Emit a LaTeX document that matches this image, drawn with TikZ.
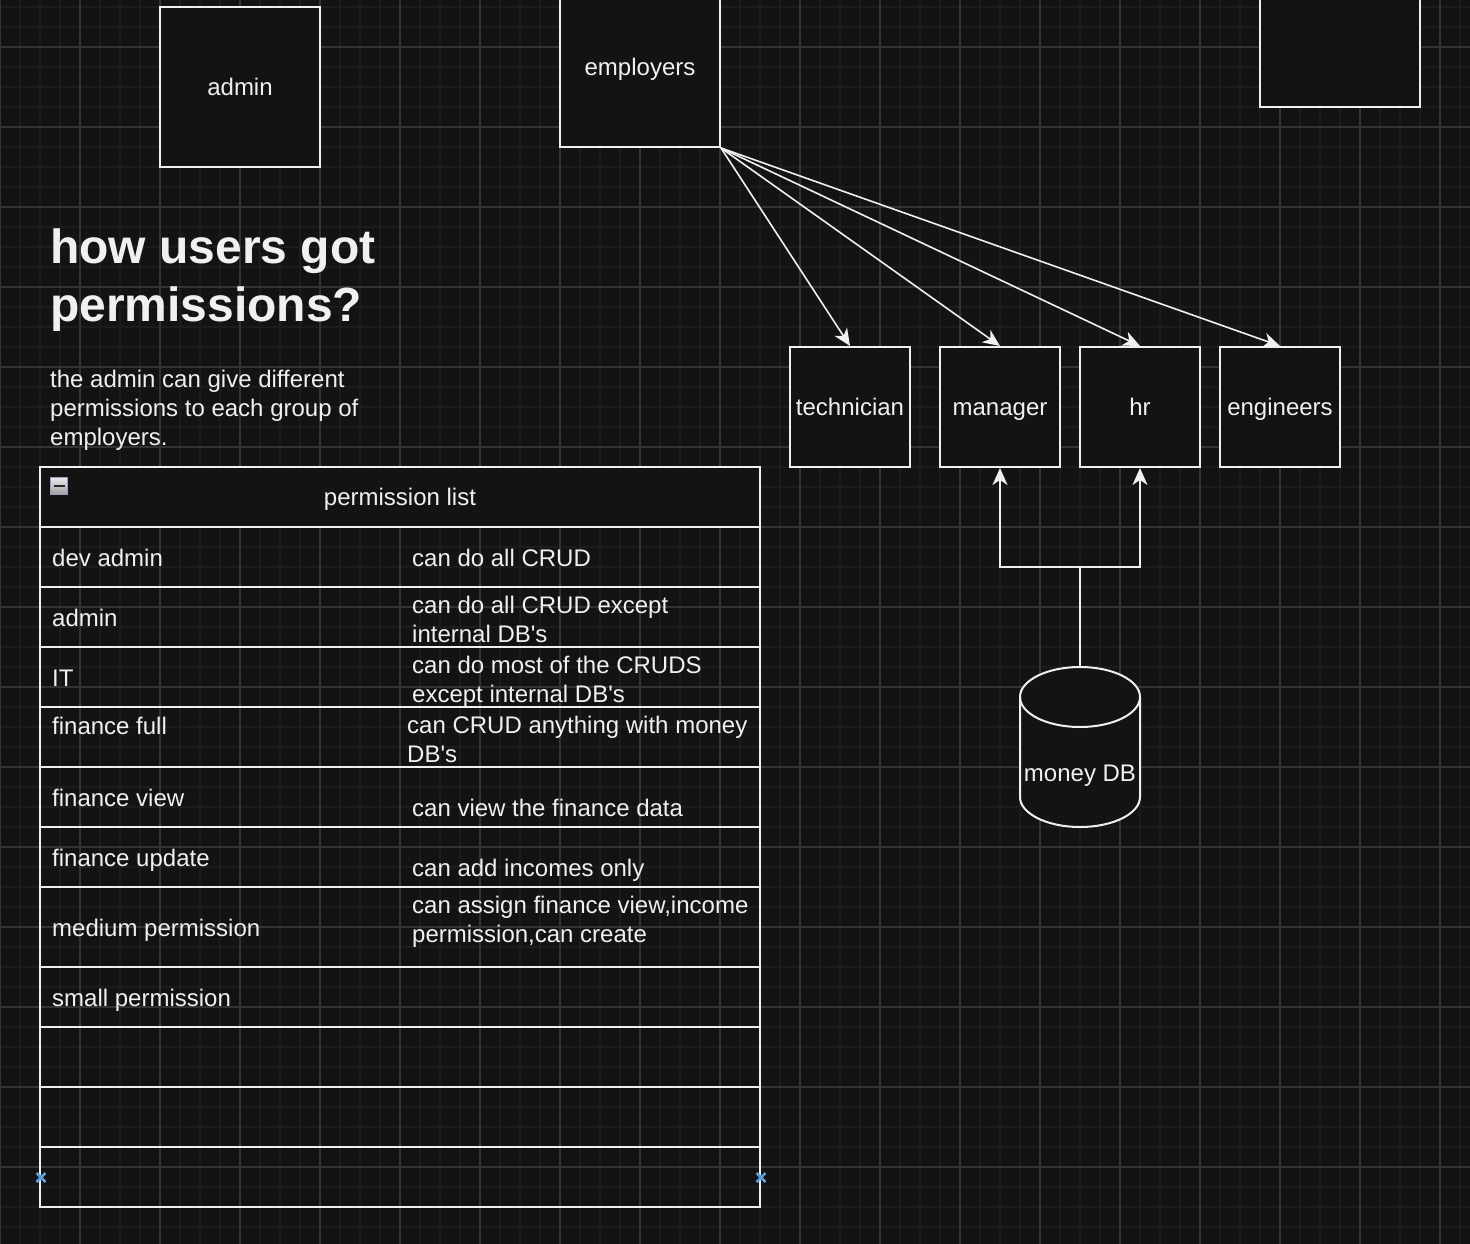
\documentclass[tikz,border=0pt]{standalone}
\usepackage{fontspec}
\setmainfont{Liberation Sans}
\usetikzlibrary{arrows.meta}
\definecolor{bg}{HTML}{131313}
\definecolor{fg}{HTML}{F0F0F0}
\definecolor{gridminor}{HTML}{1C1C1C}
\definecolor{gridmajor}{HTML}{333333}
\definecolor{handle}{HTML}{5AA0DC}
\begin{document}
\begin{tikzpicture}[
    x=1pt, y=-1pt,
    every node/.style={
      text=fg, inner sep=0pt,
      font=\fontsize{24}{28.8}\selectfont,
    },
    box/.style={
      draw=fg, fill=bg, line width=2pt, minimum size=#1,
      text height=21.7pt, text depth=5.1pt,
    },
    box/.default=160,
    arr/.style={
      draw=fg, line width=1.6pt,
      -{Stealth[length=17pt, width=15pt, inset=5pt]},
    },
    tbl/.style={draw=fg, line width=2pt},
    cell/.style={anchor=base west, align=left},
    ]
  \useasboundingbox (0,0) rectangle (1470,1244);
  \clip (0,0) rectangle (1470,1244);
  \fill[bg] (0,0) rectangle (1470,1244);
  \foreach \x in {0,20,...,1460} \draw[gridminor, line width=1.8pt] (\x,0) -- (\x,1244);
  \foreach \y in {7,27,...,1227} \draw[gridminor, line width=1.8pt] (0,\y) -- (1470,\y);
  \foreach \x in {0,80,...,1440} \draw[gridmajor, line width=1.2pt] (\x,0) -- (\x,1244);
  \foreach \y in {47,127,...,1207} \draw[gridmajor, line width=1.2pt] (0,\y) -- (1470,\y);

  \node[box] (adm) at (240,87) {admin};
  \node[box] (emp) at (640,67) {employers};
  \node[box] (blank) at (1340,27) {};
  \node[box=120] (tech) at (850,407) {technician};
  \node[box=120] (mgr) at (1000,407) {manager};
  \node[box=120] (hr) at (1140,407) {hr};
  \node[box=120] (eng) at (1280,407) {engineers};
  \foreach \n in {tech,mgr,hr,eng}
    \draw[arr] (emp.south east) -- (\n.north);

  \draw[draw=fg, fill=bg, line width=2pt] (1020,697) -- (1020,797)
    arc[start angle=180, end angle=0, x radius=60, y radius=30] -- (1140,697)
    arc[start angle=0, end angle=-180, x radius=60, y radius=30] -- cycle;
  \draw[draw=fg, line width=2pt] (1020,697)
    arc[start angle=180, end angle=0, x radius=60, y radius=30];
  \node[text height=21.7pt, text depth=5.1pt] (db) at (1080,773) {money DB};
  \coordinate (dbtop) at (1080,667);
  \draw[arr] (dbtop) -- ++(0,-100) -| (mgr.south);
  \draw[arr] (dbtop) -- ++(0,-100) -| (hr.south);

  \node[anchor=base west, align=left, font=\fontsize{48}{57.6}\selectfont\bfseries]
    (ttl) at (50,321) {how users got\\permissions?};
  \node[anchor=base west, align=left] (desc) at (50,445)
    {the admin can give different\\permissions to each group of\\employers.};

  \node[box, minimum width=720, minimum height=60] (hdr) at (400,497) {permission list};
  \node[draw=gray!70!blue!60, line width=1pt, minimum size=17,
    top color=white!92!black, bottom color=white!62!black] (tog) at (59,486)
    {\textcolor{black!85}{\rule{11pt}{2.5pt}}};
  \draw[tbl] (40,527) rectangle (760,1207);
  \foreach \y in {587,647,707,767,827,887,967,1027,1087,1147}
    \draw[tbl] (40,\y) -- (760,\y);

  \node[cell] (r1a) at (52,566) {dev admin};
  \node[cell] (r1b) at (412,566) {can do all CRUD};
  \node[cell] (r2a) at (52,626) {admin};
  \node[cell] (r2b) at (412,642) {can do all CRUD except\\internal DB\textquotesingle s};
  \node[cell] (r3a) at (52,686) {IT};
  \node[cell] (r3b) at (412,702) {can do most of the CRUDS\\except internal DB\textquotesingle s};
  \node[cell] (r4a) at (52,734) {finance full};
  \node[cell] (r4b) at (407,762) {can CRUD anything with money\\DB\textquotesingle s};
  \node[cell] (r5a) at (52,806) {finance view};
  \node[cell] (r5b) at (412,816) {can view the finance data};
  \node[cell] (r6a) at (52,866) {finance update};
  \node[cell] (r6b) at (412,876) {can add incomes only};
  \node[cell] (r7a) at (52,936) {medium permission};
  \node[cell] (r7b) at (412,942) {can assign finance view,income\\permission,can create};
  \node[cell] (r8a) at (52,1006) {small permission};

  \foreach \hx in {41,761}
    \draw[handle, line width=2.5pt] (\hx-4.5,1173) -- (\hx+4.5,1182)
      (\hx-4.5,1182) -- (\hx+4.5,1173);
\end{tikzpicture}
\end{document}
